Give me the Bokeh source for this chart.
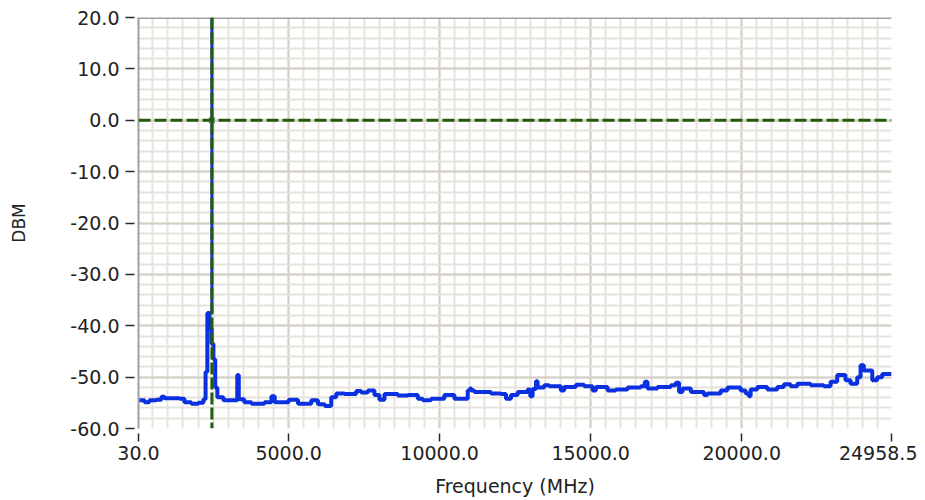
from bokeh.plotting import figure
from bokeh.models import Range1d, FixedTicker, PrintfTickFormatter, Span
from bokeh.embed import file_html
from bokeh.resources import INLINE

# ---- data ----
freq_mhz = [
    30, 230, 390, 620, 790, 890, 1390, 1550, 1780, 2010, 2180, 2250, 2310, 2380,
    2450, 2510, 2570, 2640, 2840, 3300, 3350, 3530, 3770, 4200, 4430, 4540, 5000,
    5310, 5750, 5970, 6200, 6410, 6576, 6850, 7237, 7402, 7624, 7842, 8007, 8173,
    8616, 8946, 9277, 9442, 9717, 10157, 10488, 10930, 11000, 11050, 11148, 11700,
    12031, 12196, 12361, 12583, 12913, 13000, 13078, 13188, 13244, 13462, 13627,
    14014, 14123, 14510, 14785, 15062, 15172, 15559, 15833, 16220, 16659, 16791,
    16881, 17211, 17652, 17817, 17926, 18038, 18317, 18752, 18865, 19305, 19526,
    19964, 20130, 20239, 20295, 20516, 20847, 21178, 21396, 21618, 21839, 22279,
    22720, 22941, 23162, 23436, 23603, 23824, 23934, 24043, 24321, 24486, 24651,
    24958.5,
]
level_dbm = [
    -54.5, -54.9, -54.5, -54.4, -53.8, -54.1, -54.2, -54.9, -55.2, -55.0, -54.3,
    -49.0, -37.5, -40.5, -43.5, -46.5, -52.0, -53.9, -54.5, -49.6, -54.3, -54.9,
    -55.2, -54.9, -53.7, -54.9, -54.4, -55.2, -54.5, -55.3, -55.6, -53.9, -53.2,
    -53.3, -52.7, -53.0, -52.6, -53.5, -54.4, -53.3, -53.6, -53.5, -54.2, -54.5,
    -54.2, -53.5, -54.2, -52.6, -52.2, -52.6, -52.9, -53.2, -53.3, -54.2, -53.5,
    -52.9, -52.4, -53.7, -52.3, -50.8, -52.0, -51.6, -51.8, -52.6, -51.9, -51.5,
    -51.8, -52.6, -51.9, -52.6, -52.4, -52.0, -51.8, -50.9, -52.2, -51.9, -51.6,
    -51.1, -52.9, -52.2, -52.9, -53.5, -53.2, -52.6, -52.0, -52.6, -53.2, -53.7,
    -52.4, -51.9, -52.4, -51.9, -51.4, -51.8, -51.3, -51.6, -51.8, -50.9, -49.6,
    -50.6, -51.3, -50.0, -47.7, -48.7, -50.6, -50.0, -49.4, -49.4,
]
x_ticks = [30.0, 5000.0, 10000.0, 15000.0, 20000.0, 24958.5]
y_ticks = [-60, -50, -40, -30, -20, -10, 0, 10, 20]
x_minor = [500 * k for k in range(1, 50)]
y_minor = [2 * k for k in range(-29, 10)]
cursor_freq = 2460.0
cursor_level = 0.0
peak_level = -37.5
x_title = "Frequency (MHz)"
y_title = "DBM"

FONT = "DejaVu Sans"

p = figure(width=917, height=500, output_backend="svg", toolbar_location=None,
           x_range=Range1d(30, 24958.5), y_range=Range1d(-60, 20),
           min_border_left=138, min_border_right=26, min_border_top=17,
           min_border_bottom=72)
p.outline_line_color = None
p.background_fill_color = "white"
p.border_fill_color = "white"

# axes
xa = p.xaxis[0]
xa.ticker = FixedTicker(ticks=x_ticks, minor_ticks=x_minor)
xa.formatter = PrintfTickFormatter(format="%.1f")
xa.axis_line_color = None
xa.major_tick_in = -5
xa.major_tick_out = 13
xa.major_tick_line_color = "#2a2a2a"
xa.major_tick_line_width = 1.5
xa.minor_tick_line_color = None
xa.major_label_standoff = 4
xa.major_label_text_font = FONT
xa.major_label_text_font_size = "19px"
xa.major_label_text_color = "#222222"
xa.axis_label = x_title
xa.axis_label_text_font = FONT
xa.axis_label_text_font_size = "19px"
xa.axis_label_text_font_style = "normal"
xa.axis_label_text_color = "#222222"
xa.axis_label_standoff = 12

ya = p.yaxis[0]
ya.ticker = FixedTicker(ticks=y_ticks, minor_ticks=y_minor)
ya.formatter = PrintfTickFormatter(format="%.1f")
ya.axis_line_color = "#a0a0a0"
ya.axis_line_width = 2
ya.major_tick_in = -4
ya.major_tick_out = 13
ya.major_tick_line_color = "#2a2a2a"
ya.major_tick_line_width = 1.5
ya.minor_tick_line_color = None
ya.major_label_standoff = 6
ya.major_label_text_font = FONT
ya.major_label_text_font_size = "19px"
ya.major_label_text_color = "#222222"
ya.axis_label = y_title
ya.axis_label_text_font = FONT
ya.axis_label_text_font_size = "17px"
ya.axis_label_text_font_style = "normal"
ya.axis_label_text_color = "#222222"
ya.axis_label_standoff = 38

# grid
for g in (p.xgrid[0], p.ygrid[0]):
    g.grid_line_color = "#d4d0c8"
    g.grid_line_width = 2
    g.minor_grid_line_color = "#e6e3dc"
    g.minor_grid_line_width = 2

# top border line
p.add_layout(Span(location=20, dimension="width", line_color="#a0a0a0", line_width=3))

# trace
p.step(freq_mhz, level_dbm, mode="after", line_color="#0a30e0", line_width=4)

# cursor
p.segment(x0=[cursor_freq], y0=[20], x1=[cursor_freq], y1=[peak_level],
          line_color="#0a30e0", line_width=3)
p.add_layout(Span(location=cursor_freq, dimension="height", line_color="#245c0c",
                  line_width=3, line_dash="12 3"))
p.add_layout(Span(location=cursor_level, dimension="width", line_color="#245c0c",
                  line_width=3, line_dash="12 4"))
p.scatter([cursor_freq], [cursor_level], marker="x", size=8, line_color="#5a7a4a",
          line_width=1.5)

open("out.html", "w").write(file_html(p, INLINE))
